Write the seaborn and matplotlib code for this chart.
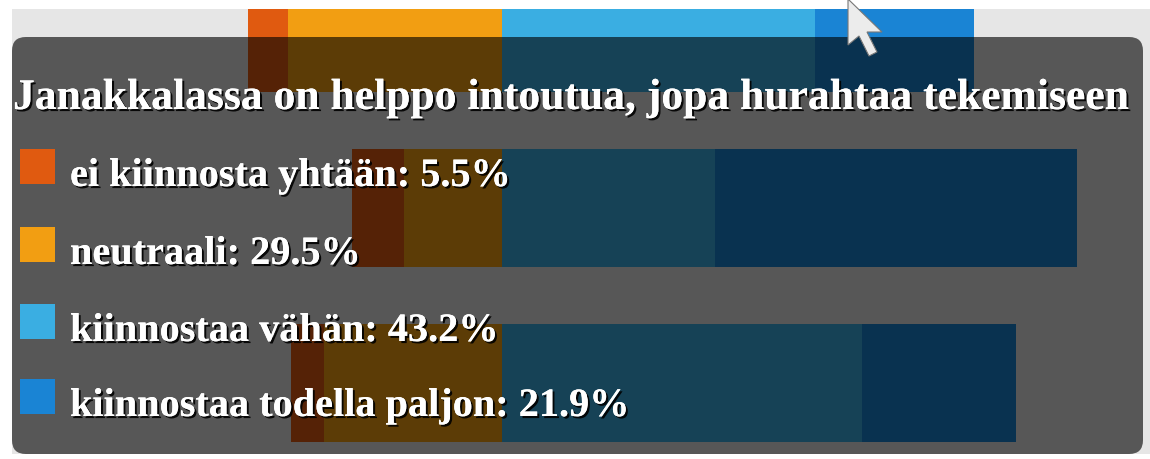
import matplotlib
matplotlib.use("Agg")
import matplotlib.pyplot as plt
import matplotlib.patheffects as pe
from matplotlib.patches import FancyBboxPatch, Rectangle, Polygon
import seaborn as sns

# survey answers per question (percent), top bar is the hovered one
questions = ["Janakkalassa on helppo intoutua, jopa hurahtaa tekemiseen",
             "kysymys 2", "kysymys 3"]
ei_kiinnosta = [5.5, 7.2, 4.6]
neutraali = [29.5, 13.5, 24.5]
kiinnostaa_vahan = [43.2, 29.4, 49.7]
kiinnostaa_paljon = [21.9, 49.9, 21.2]

answer_labels = ["ei kiinnosta yhtään", "neutraali", "kiinnostaa vähän",
                 "kiinnostaa todella paljon"]
answer_colors = ["#e05a10", "#f29e12", "#3aaee2", "#1a84d4"]
hovered = 0

# layout in pixels of the 1150x460 picture
W, H = 1150, 460
zero_px = 502
px_per_pct = 7.25
first_bar_px = 34
bar_step_px = 175


def fx(px):
    return px / W


def fy(py):
    return 1 - py / H


fig = plt.figure(figsize=(11.5, 4.6), dpi=100, facecolor="white")
ax_left, ax_top, ax_bottom = 12, 10, 455
ax = fig.add_axes([fx(ax_left), fy(ax_bottom), 1 - fx(ax_left), (ax_bottom - ax_top) / H])
ax.set_facecolor("#e6e6e6")

# diverging stacked bars: outer sums first, inner parts on top
neg_outer = [-(a + b) for a, b in zip(ei_kiinnosta, neutraali)]
neg_inner = [-b for b in neutraali]
pos_outer = [c + d for c, d in zip(kiinnostaa_vahan, kiinnostaa_paljon)]
pos_inner = list(kiinnostaa_vahan)
for vals, col in [(neg_outer, answer_colors[0]), (neg_inner, answer_colors[1]),
                  (pos_outer, answer_colors[3]), (pos_inner, answer_colors[2])]:
    sns.barplot(x=vals, y=questions, orient="h", color=col, saturation=1,
                width=118 / bar_step_px, errorbar=None, linewidth=0, ax=ax)

ax.set_xlim((ax_left - zero_px) / px_per_pct, (W - zero_px) / px_per_pct)
ax.set_ylim((ax_bottom - first_bar_px) / bar_step_px, (ax_top - first_bar_px) / bar_step_px)
ax.set_xticks([])
ax.set_yticks([])
ax.set_xlabel("")
ax.set_ylabel("")
for s in ax.spines.values():
    s.set_visible(False)

# tooltip box
tip = FancyBboxPatch((fx(12), fy(455)), fx(1143) - fx(12), (455 - 38) / H,
                     boxstyle="round,pad=0,rounding_size=0.012", mutation_aspect=W / H,
                     transform=fig.transFigure, facecolor="black", alpha=0.62,
                     edgecolor="none")
fig.add_artist(tip)

shadow = [pe.withSimplePatchShadow(offset=(1.5, -1.5), shadow_rgbFace="black", alpha=0.9),
          pe.Normal()]
serif = ["Liberation Serif", "DejaVu Serif"]

fig.text(fx(13), fy(110), questions[hovered], color="white", fontsize=31.4,
         fontweight="bold", family=serif, va="baseline", path_effects=shadow)

values = [ei_kiinnosta[hovered], neutraali[hovered], kiinnostaa_vahan[hovered],
          kiinnostaa_paljon[hovered]]
baselines = [187, 265, 342, 417]
for lab, val, col, base in zip(answer_labels, values, answer_colors, baselines):
    fig.add_artist(Rectangle((fx(20), fy(base - 2)), 35 / W, 35 / H,
                             transform=fig.transFigure, facecolor=col, edgecolor="none"))
    fig.text(fx(70), fy(base), f"{lab}: {val}%", color="white", fontsize=29,
             fontweight="bold", family=serif, va="baseline", path_effects=shadow)

# mouse pointer
cursor = [(848, 0), (848, 46), (859, 37), (869, 57), (877, 53), (867, 33), (882, 33)]
fig.add_artist(Polygon([(fx(x), fy(y)) for x, y in cursor], closed=True,
                       transform=fig.transFigure, facecolor="#ececec",
                       edgecolor="#777777", linewidth=0.8))

plt.savefig("out.png", dpi=100)
plt.close()
